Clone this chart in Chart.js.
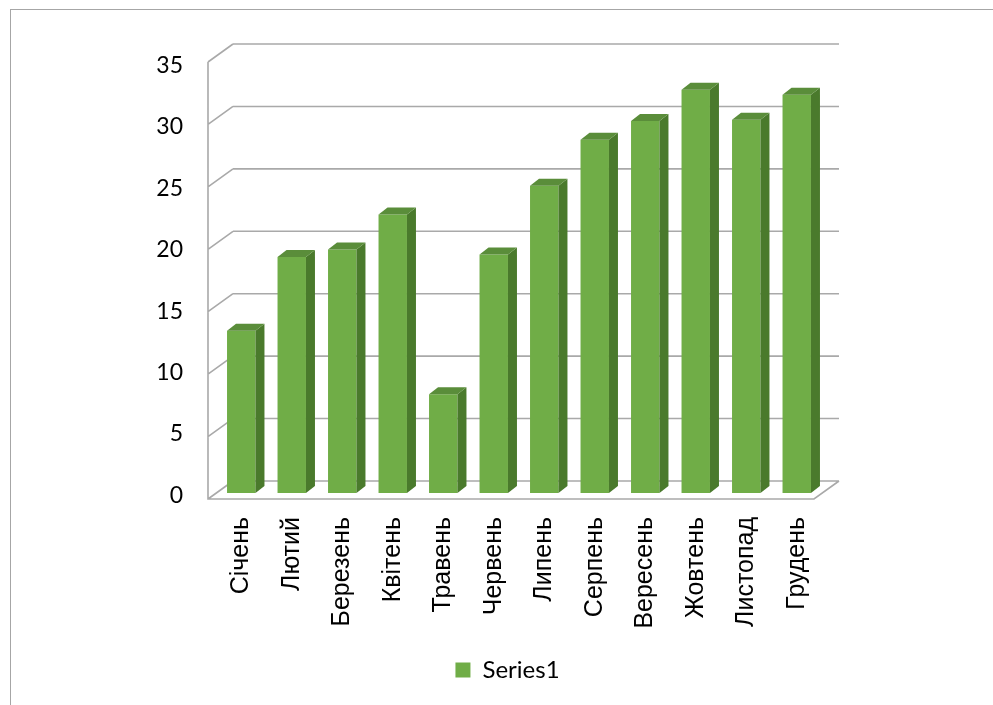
<!DOCTYPE html>
<html><head><meta charset="utf-8">
<script src="https://cdn.jsdelivr.net/npm/chart.js@4.4.1/dist/chart.umd.min.js"></script>
<style>html,body{margin:0;padding:0;background:#fff;overflow:hidden}#wrap{width:993px;height:705px;position:relative}</style>
</head><body><div id="wrap"><canvas id="c" width="993" height="705"></canvas></div>
<script>
const categories = ['Січень','Лютий','Березень','Квітень','Травень','Червень','Липень','Серпень','Вересень','Жовтень','Листопад','Грудень'];
const seriesName = 'Series1';
const values = [13.0, 18.9, 19.5, 22.3, 7.9, 19.1, 24.6, 28.3, 29.8, 32.3, 29.9, 31.9];
const yMin = 0, yMax = 35, yStep = 5;

// oblique 3D projection offsets, relative to the bar plane
const FRONT = {dx: -8, dy: 6};
const BACK = {dx: 17, dy: -12};
const BAR_DEPTH = {dx: 9, dy: -7};
const GRID_COLOR = '#a9a9a9';
const FRONT_COLOR = '#70ad47';
const SIDE_COLOR = '#4a7a2c';
const TOP_COLOR = '#5a8d3a';

const threeD = {
  id: 'threeD',
  beforeDraw(chart) {
    const ctx = chart.ctx;
    ctx.save();
    ctx.strokeStyle = '#a6a6a6';
    ctx.lineWidth = 1;
    ctx.strokeRect(10.5, 9.5, 1200, 1000);
    ctx.restore();
  },
  beforeDatasetsDraw(chart) {
    const ctx = chart.ctx, a = chart.chartArea, ys = chart.scales.y;
    ctx.save();
    ctx.strokeStyle = GRID_COLOR;
    ctx.lineWidth = 1.6;
    ctx.beginPath();
    ys.ticks.forEach(t => {
      const p = ys.getPixelForValue(t.value);
      // back wall line
      ctx.moveTo(a.left + BACK.dx, p + BACK.dy);
      ctx.lineTo(a.right + BACK.dx, p + BACK.dy);
      // side wall diagonal
      ctx.moveTo(a.left + FRONT.dx, p + FRONT.dy);
      ctx.lineTo(a.left + BACK.dx, p + BACK.dy);
    });
    const p0 = ys.getPixelForValue(yMin), pTop = ys.getPixelForValue(yMax);
    // side wall front edge
    ctx.moveTo(a.left + FRONT.dx, pTop + FRONT.dy);
    ctx.lineTo(a.left + FRONT.dx, p0 + FRONT.dy);
    // floor front and right edges
    ctx.lineTo(a.right + FRONT.dx, p0 + FRONT.dy);
    ctx.lineTo(a.right + BACK.dx, p0 + BACK.dy);
    ctx.stroke();
    ctx.restore();
  },
  afterDatasetsDraw(chart) {
    const ctx = chart.ctx;
    const meta = chart.getDatasetMeta(0);
    ctx.save();
    meta.data.forEach(bar => {
      const {x, y, base, width} = bar.getProps(['x', 'y', 'base', 'width'], true);
      const l = x - width / 2, r = x + width / 2;
      ctx.fillStyle = SIDE_COLOR;
      ctx.beginPath();
      ctx.moveTo(r, y); ctx.lineTo(r + BAR_DEPTH.dx, y + BAR_DEPTH.dy);
      ctx.lineTo(r + BAR_DEPTH.dx, base + BAR_DEPTH.dy); ctx.lineTo(r, base);
      ctx.closePath(); ctx.fill();
      ctx.fillStyle = TOP_COLOR;
      ctx.beginPath();
      ctx.moveTo(l, y); ctx.lineTo(l + BAR_DEPTH.dx, y + BAR_DEPTH.dy);
      ctx.lineTo(r + BAR_DEPTH.dx, y + BAR_DEPTH.dy); ctx.lineTo(r, y);
      ctx.closePath(); ctx.fill();
    });
    ctx.restore();
  },
  afterDraw(chart) {
    const ctx = chart.ctx, a = chart.chartArea, ys = chart.scales.y;
    const mid = (ys.getPixelForValue(yMin) + ys.getPixelForValue(yMax)) / 2 + FRONT.dy;
    ctx.save();
    ctx.font = '23px Lato';
    ctx.fillStyle = '#000';
    ctx.textAlign = 'right';
    ctx.textBaseline = 'middle';
    ys.ticks.forEach(t => {
      const f = ys.getPixelForValue(t.value) + FRONT.dy;
      ctx.fillText(String(t.value), a.left + FRONT.dx - 25, mid + (f - mid) * 0.984);
    });
    ctx.restore();
  }
};

new Chart(document.getElementById('c'), {
  type: 'bar',
  data: {
    labels: categories,
    datasets: [{
      label: seriesName,
      data: values,
      backgroundColor: FRONT_COLOR,
      borderWidth: 0,
      categoryPercentage: 1,
      barPercentage: 0.563
    }]
  },
  options: {
    responsive: false,
    animation: false,
    devicePixelRatio: 1,
    layout: {padding: {top: 56, left: 193, right: 171, bottom: 13}},
    plugins: {
      tooltip: {enabled: false},
      legend: {
        position: 'bottom',
        labels: {boxWidth: 15, boxHeight: 15, padding: 10, color: '#000', font: {family: 'Lato', size: 24}}
      }
    },
    scales: {
      x: {
        grid: {display: false, drawTicks: false},
        border: {display: false},
        ticks: {autoSkip: false, minRotation: 90, maxRotation: 90, padding: 24, color: '#000',
                font: {family: 'Liberation Sans', size: 25}},
        afterFit(s) { s.height = 155; }
      },
      y: {
        min: yMin, max: yMax,
        grid: {display: false, drawTicks: false},
        border: {display: false},
        ticks: {stepSize: yStep, display: false},
        afterFit(s) { s.width = 23; }
      }
    }
  },
  plugins: [threeD]
});
</script></body></html>
